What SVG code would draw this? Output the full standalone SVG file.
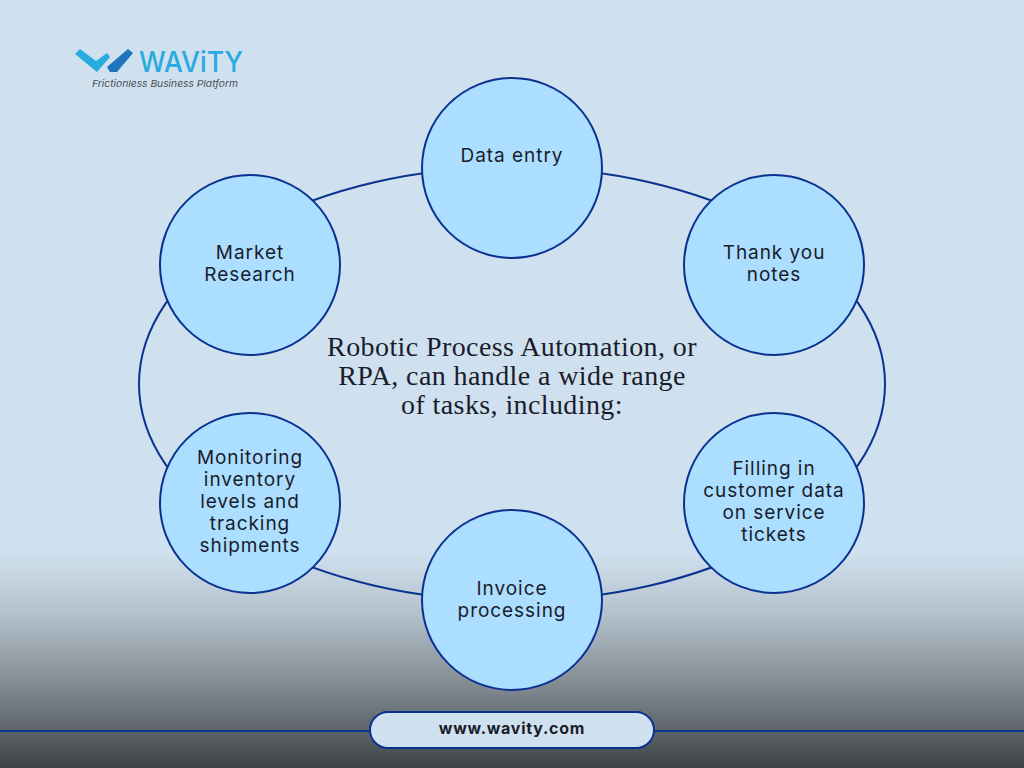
<svg xmlns="http://www.w3.org/2000/svg" width="1024" height="768" viewBox="0 0 1024 768">
<defs>
<linearGradient id="bg" x1="0" y1="0" x2="0" y2="1"><stop offset="0" stop-color="#cfe0ee"/><stop offset="0.72" stop-color="#cfe0ee"/><stop offset="0.8" stop-color="#b4c1cb"/><stop offset="0.9" stop-color="#7d868c"/><stop offset="1" stop-color="#3f4347"/></linearGradient>
</defs>
<style>
.c{fill:#abdeff;stroke:#0a3291;stroke-width:2}
.l{fill:none;stroke:#0a3291;stroke-width:2}
.t{font-family:Inter,"Noto Sans",sans-serif;font-size:19px;fill:#1a1c2c;text-anchor:middle;letter-spacing:0.95px}
.m{font-family:"Liberation Serif",serif;font-size:28px;fill:#1a1c2c;text-anchor:middle;letter-spacing:0.4px}
</style>
<rect width="1024" height="768" fill="url(#bg)"/>
<g id="connectors">
<ellipse class="l" cx="512" cy="384" rx="373" ry="217"/>
<path class="l" d="M0 731H370M654 731H1024"/>
</g>
<g id="logo">
<path d="M75 54L80 49L96 61L107 53L110 57L97 72Z" fill="#29abe2"/>
<path d="M107 67L128 49L133 53L117 72L110 72Z" fill="#1f75bd"/>
<text x="139" y="72" font-family="Inter,sans-serif" font-size="29" font-weight="500" fill="#29abe2" textLength="104" lengthAdjust="spacingAndGlyphs">WAViTY</text>
<text x="92" y="87" font-family="Inter,sans-serif" font-size="9.5" font-style="italic" fill="#4a4f55" textLength="146" lengthAdjust="spacingAndGlyphs">Frictionless Business Platform</text>
</g>
<g id="node-data-entry"><circle class="c" cx="512" cy="168" r="90"/><text class="t" x="512" y="162">Data entry</text></g>
<g id="node-thank-you"><circle class="c" cx="774" cy="265" r="90"/><text class="t" x="774" y="259">Thank you</text><text class="t" x="774" y="281">notes</text></g>
<g id="node-filling"><circle class="c" cx="774" cy="503" r="90"/><text class="t" x="774" y="475">Filling in</text><text class="t" x="774" y="497">customer data</text><text class="t" x="774" y="519">on service</text><text class="t" x="774" y="541">tickets</text></g>
<g id="node-invoice"><circle class="c" cx="512" cy="600" r="90"/><text class="t" x="512" y="595">Invoice</text><text class="t" x="512" y="617">processing</text></g>
<g id="node-monitoring"><circle class="c" cx="250" cy="503" r="90"/><text class="t" x="250" y="464">Monitoring</text><text class="t" x="250" y="486">inventory</text><text class="t" x="250" y="508">levels and</text><text class="t" x="250" y="530">tracking</text><text class="t" x="250" y="552">shipments</text></g>
<g id="node-market"><circle class="c" cx="250" cy="265" r="90"/><text class="t" x="250" y="259">Market</text><text class="t" x="250" y="281">Research</text></g>
<g id="center"><text class="m" x="512" y="356">Robotic Process Automation, or</text><text class="m" x="512" y="385">RPA, can handle a wide range</text><text class="m" x="512" y="414">of tasks, including:</text></g>
<g id="url"><rect x="370" y="712" width="284" height="36" rx="18" fill="#cfe0ee" stroke="#0a3291" stroke-width="2"/><text x="512" y="734" font-family="Inter,sans-serif" font-size="16" font-weight="700" fill="#1a1c2c" text-anchor="middle" letter-spacing="0.75">www.wavity.com</text></g>
</svg>
